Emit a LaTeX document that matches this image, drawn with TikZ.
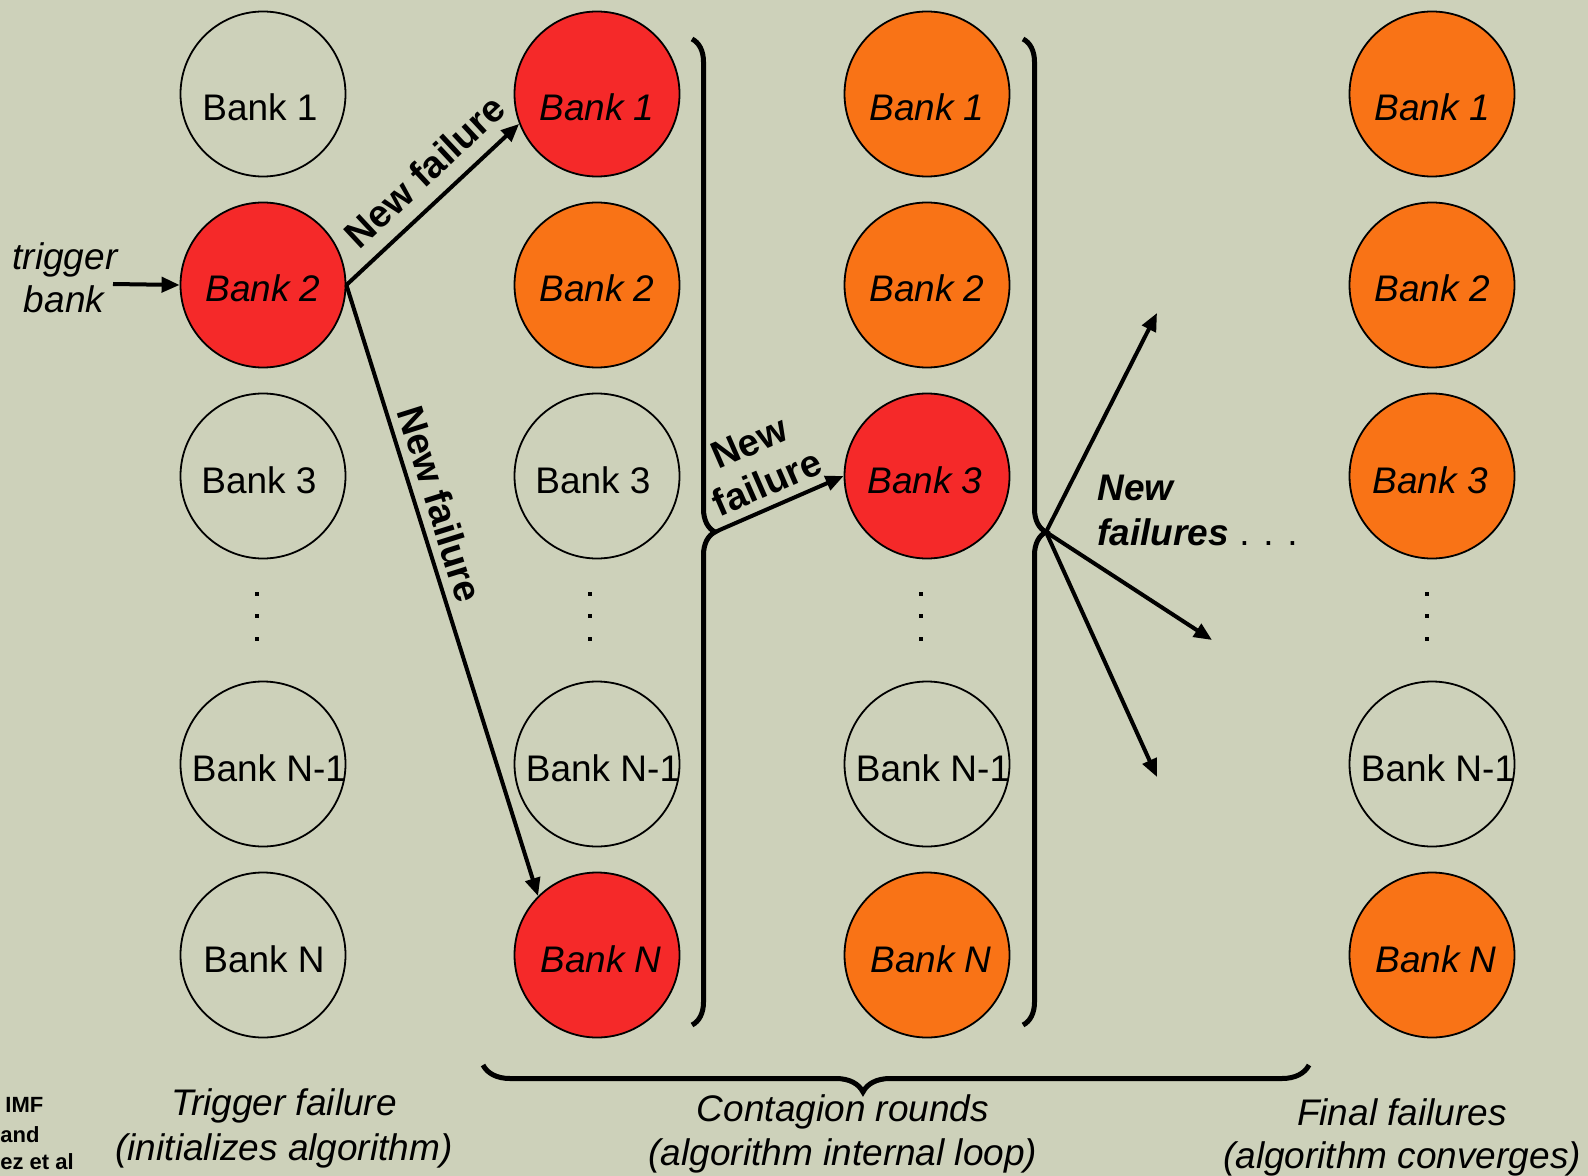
\documentclass[tikz,border=0pt]{standalone}
\usepackage{fontspec}
\setmainfont{Liberation Sans}
\usetikzlibrary{arrows.meta,decorations.pathreplacing}
\definecolor{bgc}{RGB}{205,209,186}
\definecolor{bankred}{RGB}{245,41,41}
\definecolor{bankorange}{RGB}{249,115,22}
\newcommand\bigf{\fontsize{18.5}{21}\selectfont}
\newcommand\lblf{\fontsize{19}{22}\selectfont\bfseries}
% name, x, y, style, text, dx, baseline offset
\newcommand\bankat[7]{\node[#4] (#1) at (#2,#3) {};\node[#4txt, anchor=base] (#1t) at (#2+#6,#3+#7) {#5};}
\tikzset{
  bank/.style={circle, draw=black, line width=0.9pt, minimum size=82.5pt, inner sep=0pt},
  wb/.style={bank},
  rb/.style={bank, fill=bankred},
  ob/.style={bank, fill=bankorange},
  wbtxt/.style={inner sep=0pt, font=\bigf},
  rbtxt/.style={inner sep=0pt, font=\bigf\itshape},
  obtxt/.style={inner sep=0pt, font=\bigf\itshape},
  arr/.style={line width=2pt, -{Triangle[length=9pt,width=7.5pt]}},
  vbrace/.style={decorate, decoration={brace, amplitude=11.5pt}, line width=2.5pt},
  hbrace/.style={decorate, decoration={brace, mirror, amplitude=13.5pt, aspect=0.46}, line width=2.5pt},
  flbl/.style={font=\lblf, inner sep=1pt},
  capt/.style={font=\bigf\itshape, inner sep=0pt, anchor=base},
  credit/.style={font=\fontsize{11}{12}\selectfont\bfseries, inner sep=0pt, anchor=base west},
}
\begin{document}
\begin{tikzpicture}[x=0.5pt,y=-0.5pt]
\useasboundingbox (0,0) rectangle (1588,1176);
\fill[bgc] (0,0) rectangle (1588,1176);
% column 1
\bankat{a1}{263}{94}{wb}{Bank 1}{-3}{27}
\bankat{a2}{263}{285}{rb}{Bank 2}{0}{17}
\bankat{a3}{263}{476}{wb}{Bank 3}{-4}{17}
\bankat{a4}{263}{764}{wb}{Bank N-1}{6}{17}
\bankat{a5}{263}{955}{wb}{Bank N}{1}{17}
% column 2
\bankat{b1}{597}{94}{rb}{Bank 1}{0}{27}
\bankat{b2}{597}{285}{ob}{Bank 2}{0}{17}
\bankat{b3}{597}{476}{wb}{Bank 3}{-4}{17}
\bankat{b4}{597}{764}{wb}{Bank N-1}{6}{17}
\bankat{b5}{597}{955}{rb}{Bank N}{4}{17}
% column 3
\bankat{c1}{927}{94}{ob}{Bank 1}{0}{27}
\bankat{c2}{927}{285}{ob}{Bank 2}{0}{17}
\bankat{c3}{927}{476}{rb}{Bank 3}{-2}{17}
\bankat{c4}{927}{764}{wb}{Bank N-1}{6}{17}
\bankat{c5}{927}{955}{ob}{Bank N}{4}{17}
% column 4
\bankat{d1}{1432}{94}{ob}{Bank 1}{0}{27}
\bankat{d2}{1432}{285}{ob}{Bank 2}{0}{17}
\bankat{d3}{1432}{476}{ob}{Bank 3}{-2}{17}
\bankat{d4}{1432}{764}{wb}{Bank N-1}{6}{17}
\bankat{d5}{1432}{955}{ob}{Bank N}{4}{17}
% vertical dots
\foreach \x in {257,590,921,1427}{
  \foreach \y in {594,616,639}{
    \fill (\x-2.3,\y-2.3) rectangle ++(4.6,4.6);
  }
}
% trigger
\node[capt] (trig1) at (65,270) {trigger};
\node[capt] (trig2) at (64,313) {bank};
\coordinate (tstart) at (113,284);
\draw[arr] (tstart) -- (a2.west);
% first failures
\draw[arr] (a2.east) -- node[flbl, sloped, above=6pt, pos=0.57] (nfa) {New failure} (b1.201);
\draw[arr] (a2.east) -- node[flbl, sloped, above=3pt, pos=0.37] (nfb) {New failure} (b5.135);
% braces
\draw[vbrace] (692,39) -- (692,1025);
\draw[vbrace] (1023,39) -- (1023,1025);
\coordinate (btip1) at (715,532);
\coordinate (btip2) at (1046,532);
\draw[arr] (btip1) -- node[flbl, sloped, above=3.5pt, pos=0.48, align=center, font=\fontsize{19}{22}\selectfont\bfseries] (nfc) {New\\failure} (c3.180);
\coordinate (f1) at (1157,313);
\coordinate (f2) at (1212,640);
\coordinate (f3) at (1157,777);
\draw[arr] (btip2) -- (f1);
\draw[arr] (btip2) -- (f2);
\draw[arr] (btip2) -- (f3);
\node[font=\bigf\bfseries\itshape, inner sep=0pt, anchor=base west] (nfd1) at (1097,500) {New};
\node[font=\bigf\bfseries\itshape, inner sep=0pt, anchor=base west] (nfd2) at (1097,545) {failures{\mdseries\upshape\ . . .}};
% bottom brace
\draw[hbrace] (483,1065) -- (1309,1065);
% captions
\node[capt] (capA1) at (284,1115) {Trigger failure};
\node[capt] (capA2) at (284,1160) {(initializes algorithm)};
\node[capt] (capB1) at (843,1121) {Contagion rounds};
\node[capt] (capB2) at (843,1165) {(algorithm internal loop)};
\node[capt] (capC1) at (1402,1125) {Final failures};
\node[capt] (capC2) at (1402,1168) {(algorithm converges)};
% credit
\node[credit] (cr1) at (5,1112) {IMF};
\node[credit] (cr2) at (0,1142) {and};
\node[credit] (cr3) at (0,1169) {ez et al};
\end{tikzpicture}
\end{document}
